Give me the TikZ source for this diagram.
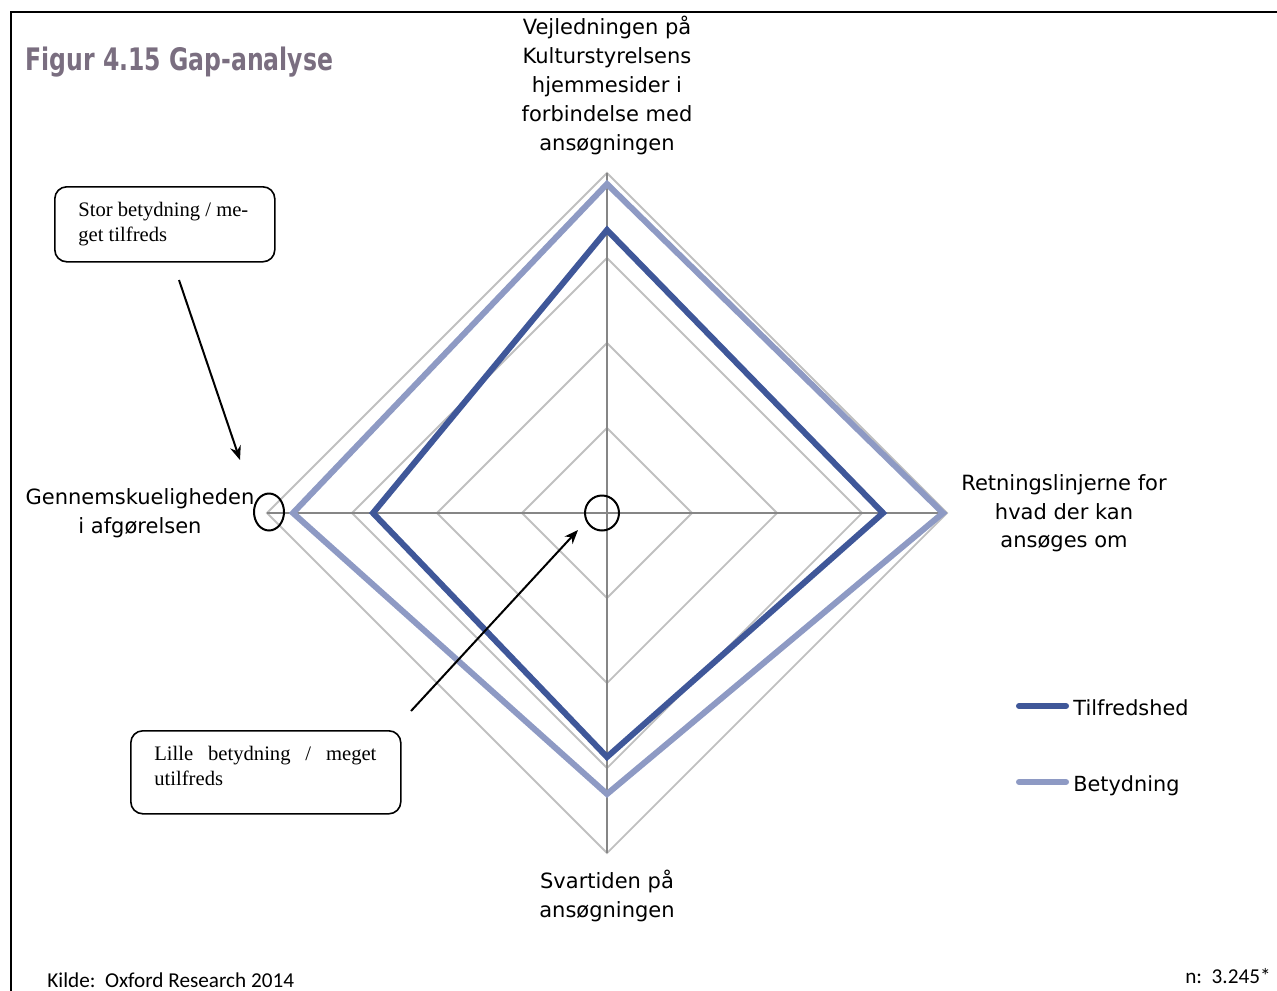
\documentclass[tikz,border=0pt]{standalone}
\usepackage{fontspec}
\setmainfont{DejaVu Sans}
\newfontfamily\titlefont[FakeStretch=0.76]{DejaVu Sans}
\newfontfamily\notefont{Liberation Serif}
\newfontfamily\srcfont{Carlito}
\usetikzlibrary{arrows.meta,shapes.geometric}

\definecolor{titlegray}{RGB}{122,110,128}
\definecolor{tilfblue}{RGB}{63,87,153}
\definecolor{betblue}{RGB}{142,154,196}
\definecolor{ringgray}{RGB}{192,192,192}
\definecolor{axisgray}{RGB}{134,134,134}

\begin{document}
\begin{tikzpicture}[
    x=0.5pt, y=-0.5pt,
    >={Stealth[length=7pt,width=5.5pt]},
    ringline/.style={
        draw=ringgray,
        line width=0.9pt
    },
    axisline/.style={
        draw=axisgray,
        line width=1.2pt
    },
    tilfline/.style={
        draw=tilfblue,
        line width=3pt
    },
    betline/.style={
        draw=betblue,
        line width=3pt
    },
    axislabel/.style={
        align=center,
        inner sep=0pt,
        anchor=north,
        font=\fontsize{10.5}{14.4}\selectfont
    },
    notebox/.style={
        draw,
        rounded corners=6pt,
        line width=0.8pt,
        inner sep=0pt,
        anchor=north west
    },
    notetext/.style={
        align=left,
        inner sep=0pt,
        anchor=north west,
        font=\notefont\fontsize{10.3}{12.2}\selectfont
    },
    hilite/.style={
        ellipse,
        draw,
        line width=1pt,
        inner sep=0pt
    },
    pointer/.style={
        ->,
        line width=1pt
    },
    legtext/.style={
        anchor=base west,
        inner sep=0pt,
        font=\fontsize{10.4}{12}\selectfont
    }
]
\useasboundingbox (0,0) rectangle (1277,990);

% Frame
\draw[line width=0.9pt] (11,995) -- (11,12) -- (1280,12);

% Title
\node[anchor=base west, inner sep=0pt, text=titlegray,
      font=\titlefont\bfseries\fontsize{15.5}{18}\selectfont] (title) at (25,70) {Figur 4.15 Gap-analyse};

% Grid
\foreach \r in {85,170,255,340}
    \draw[ringline] (607,513-\r) -- (607+\r,513) -- (607,513+\r) -- (607-\r,513) -- cycle;
\draw[axisline] (607,173) -- (607,853);
\draw[axisline] (267,513) -- (947,513);

% Series
\draw[betline] (607,184) -- (943,513) -- (607,794) -- (293,513) -- cycle;
\draw[tilfline] (607,230) -- (883,513) -- (607,757) -- (373,513) -- cycle;

% Axis labels
\node[axislabel] (lblvej) at (607,16) {Vejledningen på\\Kulturstyrelsens\\hjemmesider i\\forbindelse med\\ansøgningen};
\node[axislabel] (lblret) at (1064,474) {Retningslinjerne for\\hvad der kan\\ansøges om};
\node[axislabel] (lblsvar) at (607,870) {Svartiden på\\ansøgningen};
\node[axislabel] (lblgen) at (140,488) {Gennemskueligheden\\i afgørelsen};

% Marks
\node[hilite, minimum width=15pt, minimum height=18.5pt] (ringleft) at (269,512) {};
\node[hilite, minimum width=17pt, minimum height=17.5pt] (ringcenter) at (602,513) {};

% Notes
\node[notebox, minimum width=110pt, minimum height=37.5pt] (storbox) at (54,186) {};
\node[notetext] (stortext) at (78,202) {Stor betydning / me-\\get tilfreds};
\node[notebox, minimum width=135pt, minimum height=41.5pt] (lillebox) at (130,730) {};
\node[notetext, text width=111pt] (lilletext) at (154,746) {Lille\hfill betydning\hfill /\hfill meget\\utilfreds};

% Pointers
\coordinate (stortail) at (179,280);
\coordinate (stortip) at (240,460);
\draw[pointer] (stortail) -- (stortip);
\coordinate (lilletail) at (411,711);
\coordinate (lilletip) at (578,530);
\draw[pointer] (lilletail) -- (lilletip);

% Legend
\coordinate (tilfa) at (1019,706);
\coordinate (tilfb) at (1066,706);
\draw[tilfline, line cap=round] (tilfa) -- (tilfb);
\node[legtext] (legtilf) at (1073,715) {Tilfredshed};
\coordinate (beta) at (1019,782);
\coordinate (betb) at (1066,782);
\draw[betline, line cap=round] (beta) -- (betb);
\node[legtext] (legbet) at (1073,791) {Betydning};

% Footer
\node[anchor=base west, inner sep=0pt, font=\srcfont\fontsize{10.6}{12}\selectfont] (kilde) at (47,987) {Kilde:\ \ Oxford Research 2014};
\node[anchor=base east, inner sep=0pt, font=\srcfont\fontsize{10.6}{12}\selectfont] (nval) at (1271,983) {n:\ \ 3.245*};

\end{tikzpicture}
\end{document}
